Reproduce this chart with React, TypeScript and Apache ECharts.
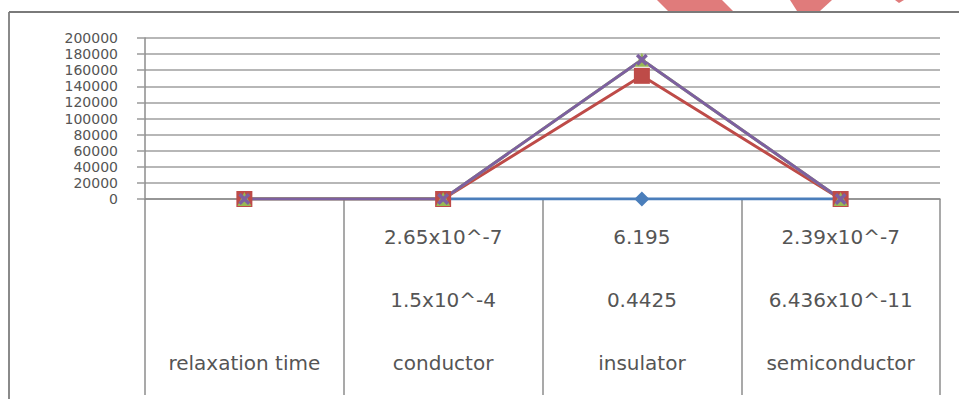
import React, { useEffect, useRef } from "react";
import * as echarts from "echarts";

const categories = ["relaxation time", "conductor", "insulator", "semiconductor"];
const tableRow1 = ["", "2.65x10^-7", "6.195", "2.39x10^-7"];
const tableRow2 = ["", "1.5x10^-4", "0.4425", "6.436x10^-11"];

const seriesBlue = [0, 0, 0, 0];
const seriesRed = [0, 0, 153000, 0];
const seriesGreen = [0, 0, 173000, 0];
const seriesPurple = [0, 0, 173000, 0];

const yMin = 0;
const yMax = 200000;
const yInterval = 20000;

const FONT = "DejaVu Sans";
const X_SYMBOL =
  "path://M0,2 L2,0 L5,3 L8,0 L10,2 L7,5 L10,8 L8,10 L5,7 L2,10 L0,8 L3,5 Z";

export default function App() {
  const ref = useRef<HTMLDivElement>(null);
  useEffect(() => {
    if (!ref.current) return;
    const chart = echarts.init(ref.current, undefined, { renderer: "svg" });
    const lineSeries = (
      name: string,
      data: number[],
      color: string,
      symbol: string,
      symbolSize: number
    ) => ({
      name,
      type: "line",
      data,
      symbol,
      symbolSize,
      showAllSymbol: true,
      lineStyle: { color, width: 3 },
      itemStyle: { color },
      emphasis: { disabled: true },
    });
    const pink = { fill: "#e07b7b", stroke: "none", lineWidth: 0 };
    chart.setOption({
      animation: false,
      backgroundColor: "#ffffff",
      textStyle: { fontFamily: FONT },
      grid: { left: 145, right: 19, top: 38, bottom: 200, containLabel: false },
      xAxis: {
        type: "category",
        data: categories,
        boundaryGap: true,
        axisLine: { show: true, lineStyle: { color: "#8c8c8c", width: 1.5 } },
        axisTick: {
          show: true,
          interval: 0,
          length: 196,
          lineStyle: { color: "#8c8c8c", width: 1.5 },
        },
        axisLabel: {
          interval: 0,
          margin: 6,
          color: "#555555",
          fontFamily: FONT,
          fontSize: 20,
          lineHeight: 63,
          formatter: (value: string, idx: number) =>
            `${tableRow1[idx]}\n${tableRow2[idx]}\n${value}`,
        },
        splitLine: { show: false },
      },
      yAxis: {
        type: "value",
        min: yMin,
        max: yMax,
        interval: yInterval,
        axisLine: { show: true, lineStyle: { color: "#8c8c8c", width: 1.5 } },
        axisTick: { show: true, length: 8, lineStyle: { color: "#9a9a9a", width: 1.5 } },
        axisLabel: {
          margin: 27,
          color: "#555555",
          fontFamily: FONT,
          fontSize: 14,
          lineHeight: 14,
          showMinLabel: true,
          showMaxLabel: true,
          hideOverlap: false,
          formatter: (v: number) => String(v),
        },
        splitLine: { show: true, lineStyle: { color: "#9f9f9f", width: 1.5 } },
      },
      series: [
        lineSeries("Series1", seriesBlue, "#4a7ebb", "diamond", 15),
        lineSeries("Series2", seriesRed, "#be4b48", "rect", 16),
        lineSeries("Series3", seriesGreen, "#98b954", "triangle", 14),
        lineSeries("Series4", seriesPurple, "#7d60a0", X_SYMBOL, 12),
      ],
      graphic: [
        {
          type: "polygon",
          shape: { points: [[657, 0], [722, 0], [733, 11], [668, 11]] },
          style: pink,
        },
        {
          type: "polygon",
          shape: { points: [[790, 0], [832, 0], [820, 11], [797, 11]] },
          style: pink,
        },
        {
          type: "polygon",
          shape: { points: [[895, 0], [904, 0], [899, 3]] },
          style: pink,
        },
        {
          type: "line",
          shape: { x1: 9, y1: 12, x2: 9, y2: 399 },
          style: { stroke: "#8a8a8a", lineWidth: 2 },
        },
        {
          type: "line",
          shape: { x1: 9, y1: 12, x2: 959, y2: 12 },
          style: { stroke: "#7a7a7a", lineWidth: 2 },
        },
      ],
    });
    return () => chart.dispose();
  }, []);
  return (
    <div
      ref={ref}
      style={{ position: "absolute", left: 0, top: 0, width: 959, height: 399 }}
    />
  );
}
